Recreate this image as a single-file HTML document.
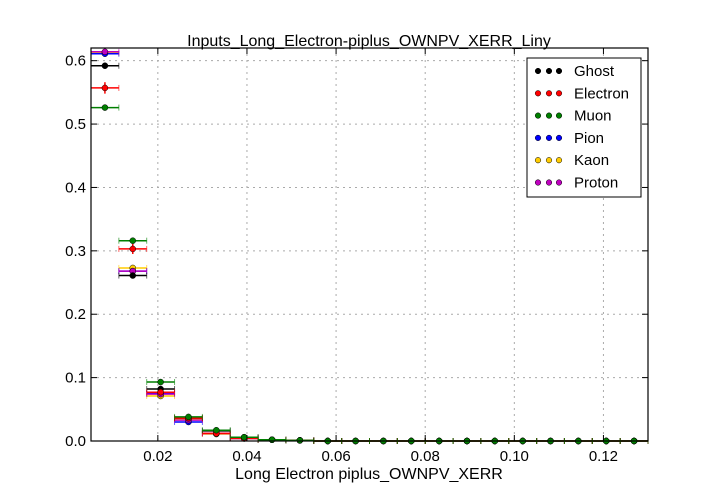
<!DOCTYPE html>
<html><head><meta charset="utf-8"><style>
html,body{margin:0;padding:0;background:#fff;}
svg{display:block;font-family:"Liberation Sans",sans-serif;}
</style></head><body>
<svg id="chart" width="720" height="504">
<rect x="0" y="0" width="720" height="504" fill="#fff"/>
<text x="369" y="46" font-size="16" text-anchor="middle">Inputs_Long_Electron-piplus_OWNPV_XERR_Liny</text>
<g id="grid"></g><g id="marks"></g><g id="axes"></g>
<text x="369" y="479" font-size="16" text-anchor="middle">Long Electron piplus_OWNPV_XERR</text>
<g id="legend"></g>
</svg>
<script>
const xTicks=[0.02,0.04,0.06,0.08,0.10,0.12];
const xTickLabels=["0.02","0.04","0.06","0.08","0.10","0.12"];
const yTicks=[0,0.1,0.2,0.3,0.4,0.5,0.6];
const yTickLabels=["0.0","0.1","0.2","0.3","0.4","0.5","0.6"];
const seriesNames=["Ghost","Electron","Muon","Pion","Kaon","Proton"];
const seriesColors=["#000000","#ff0000","#007f00","#0000ff","#ffcc00","#bf00bf"];
const binLo=0.005, binW=0.00625, nBins=20;
const ghost=[0.592,0.261,0.082,0.036,0.016,0.005,0.002,0.001,0,0,0,0,0,0,0,0,0,0,0,0];
const electron=[0.557,0.303,0.077,0.036,0.012,0.004,0.002,0.001,0,0,0,0,0,0,0,0,0,0,0,0];
const muon=[0.526,0.316,0.093,0.038,0.017,0.006,0.002,0.001,0,0,0,0,0,0,0,0,0,0,0,0];
const pion=[0.611,0.268,0.075,0.030,0.012,0.004,0.002,0.001,0,0,0,0,0,0,0,0,0,0,0,0];
const kaon=[0.612,0.273,0.071,0.035,0.011,0.005,0.002,0.001,0,0,0,0,0,0,0,0,0,0,0,0];
const proton=[0.614,0.268,0.074,0.033,0.012,0.006,0.002,0.001,0,0,0,0,0,0,0,0,0,0,0,0];
const electronErr=[0.009,0.008,0.004,0.002,0.001,0.001,0,0,0,0,0,0,0,0,0,0,0,0,0,0];
const allSeries=[ghost,electron,muon,pion,kaon,proton];

const L=91,R=648,T=48,B=441,x0=0.005,x1=0.13,y0=0,y1=0.62;
const X=v=>L+(v-x0)/(x1-x0)*(R-L);
const Y=v=>B-(v-y0)/(y1-y0)*(B-T);
const NS="http://www.w3.org/2000/svg";
function mk(tag,attrs,parent){const e=document.createElementNS(NS,tag);for(const k in attrs)e.setAttribute(k,attrs[k]);parent.appendChild(e);return e;}
const grid=document.getElementById('grid'),axes=document.getElementById('axes'),marks=document.getElementById('marks'),legend=document.getElementById('legend');
xTicks.forEach((t,i)=>{
  const g=mk('line',{x1:X(t),x2:X(t),y1:T,y2:B,stroke:'#aaa','stroke-dasharray':'2,4'},grid);
  
  
  mk('line',{x1:X(t),x2:X(t),y1:B,y2:B-6,stroke:'#000'},axes);
  mk('line',{x1:X(t),x2:X(t),y1:T,y2:T+6,stroke:'#000'},axes);
  const tx=mk('text',{x:X(t),y:B+20,'font-size':15,'text-anchor':'middle'},axes);
  tx.textContent=xTickLabels[i];
  
  
});
yTicks.forEach((t,i)=>{
  if(t>0){const g=mk('line',{x1:L,x2:R,y1:Y(t),y2:Y(t),stroke:'#aaa','stroke-dasharray':'2,4'},grid);
  
  }
  mk('line',{x1:L,x2:L+6,y1:Y(t),y2:Y(t),stroke:'#000'},axes);
  mk('line',{x1:R,x2:R-6,y1:Y(t),y2:Y(t),stroke:'#000'},axes);
  const tx=mk('text',{x:L-5,y:Y(t)+5,'font-size':15,'text-anchor':'end'},axes);
  tx.textContent=yTickLabels[i];
  
  
});
const frame=mk('rect',{x:L,y:T,width:R-L,height:B-T,fill:'none',stroke:'#000','stroke-width':1.2},axes);


const order=[4,3,5,0,1,2];
order.forEach(si=>{
  const vals=allSeries[si],c=seriesColors[si];
  for(let b=0;b<nBins;b++){
    const lo=binLo+b*binW,hi=lo+binW,cx=X(lo+binW/2),cy=Y(vals[b]);
    const g=mk('g',{},marks);
    
    
    mk('line',{x1:X(lo),x2:X(hi),y1:cy,y2:cy,stroke:c,'stroke-width':1.5},g);
    mk('line',{x1:X(lo),x2:X(lo),y1:cy-3,y2:cy+3,stroke:c,'stroke-width':1,opacity:0.6},g);
    mk('line',{x1:X(hi),x2:X(hi),y1:cy-3,y2:cy+3,stroke:c,'stroke-width':1,opacity:0.6},g);
    if(si===1&&electronErr[b]>0){
      mk('line',{x1:cx,x2:cx,y1:Y(vals[b]+electronErr[b]),y2:Y(vals[b]-electronErr[b]),stroke:c,'stroke-width':1.5},g);
    }
    mk('circle',{cx:cx,cy:cy,r:3,fill:c,stroke:'#000','stroke-width':0.5},g);
  }
});
mk('rect',{x:527,y:58,width:114,height:139,fill:'#fff',stroke:'#000'},legend);
seriesNames.forEach((n,i)=>{
  const y=71+i*22.3;
  const g=mk('g',{},legend);
  
  
  [538,549,559].forEach(x=>mk('circle',{cx:x,cy:y,r:2.8,fill:seriesColors[i],stroke:'#000','stroke-width':0.5},g));
  const t=mk('text',{x:574,y:y+5,'font-size':15},g);t.textContent=n;
});
</script>
</body></html>
